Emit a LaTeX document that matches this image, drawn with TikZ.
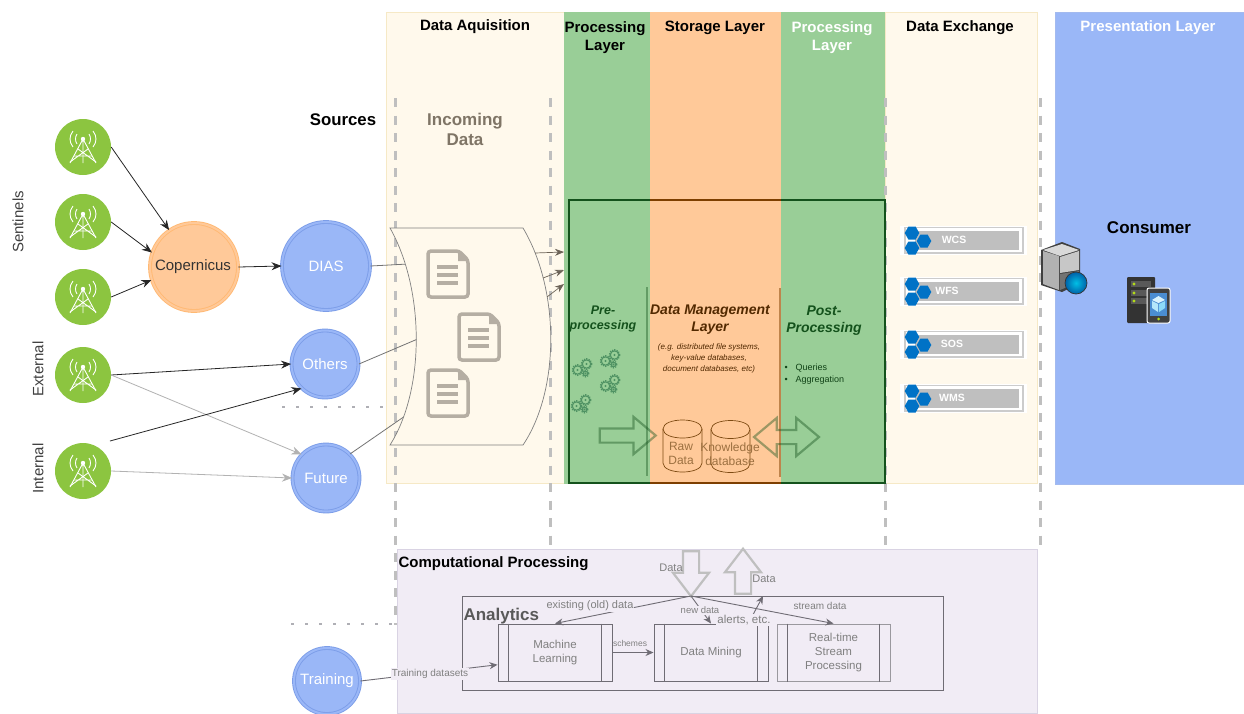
\documentclass[tikz,border=0pt]{standalone}
\usepackage{fontspec}
\setmainfont{Liberation Sans}
\usetikzlibrary{arrows.meta,positioning,shapes.geometric,shapes.arrows}
\definecolor{creamfill}{HTML}{FFF9EC}
\definecolor{creamline}{HTML}{F6E9C6}
\definecolor{greenfill}{HTML}{99CE97}
\definecolor{orangefill}{HTML}{FFC999}
\definecolor{bluefill}{HTML}{9AB7F7}
\definecolor{blueline}{HTML}{7C9DE8}
\definecolor{towergreen}{HTML}{8CC540}
\definecolor{panelfill}{HTML}{F1ECF5}
\definecolor{panelline}{HTML}{D9D3E3}
\definecolor{docgray}{HTML}{B5AEA3}
\definecolor{procline}{HTML}{6F6C74}
\definecolor{proctext}{HTML}{808080}
\definecolor{darkgreen}{HTML}{14521C}
\definecolor{gearcol}{HTML}{4F9263}
\definecolor{cylcol}{HTML}{7D4A12}
\definecolor{cyltext}{HTML}{9C7040}
\definecolor{hexblue}{HTML}{0072C6}
\definecolor{inctext}{HTML}{7F7566}
\newcommand{\fsz}[2]{\fontsize{#1}{#2}\selectfont}
\tikzset{
  arr/.style={-{Stealth[length=10pt,width=8pt]},line width=0.8pt,black!85},
  grayarr/.style={-{Stealth[length=10pt,width=8pt]},line width=0.8pt,black!30},
  thinarr/.style={-{Stealth[length=9pt,width=7pt]},line width=0.7pt,inctext!85!black},
  procarr/.style={-{Stealth[length=8pt,width=7pt]},line width=0.9pt,procline},
  tower/.style={circle,fill=towergreen,minimum size=56pt,inner sep=0pt},
  bluecirc/.style={circle,draw=blueline,double=bluefill,double distance=2pt,line width=0.9pt,fill=bluefill,text=white,inner sep=0pt,font=\fsz{15}{17}},
  orangecirc/.style={circle,draw=orange!55,double=orangefill,double distance=2pt,line width=0.9pt,fill=orangefill,inner sep=0pt,font=\fsz{15}{17},text=black!80},
  titlelab/.style={font=\bfseries\fsz{15}{18},align=center},
  sidelab/.style={rotate=90,font=\fsz{15}{17},text=black!75},
  procbox/.style={draw=procline,line width=1pt,minimum height=57pt,text=proctext,font=\fsz{11.5}{14},align=center,inner sep=0pt},
  proclab/.style={text=proctext,font=\fsz{11}{13},fill=panelfill,inner sep=1pt},
  hollowup/.style={single arrow,draw=black!25,line width=2.2pt,rotate=90,inner xsep=0pt,inner ysep=7pt,minimum width=34pt,minimum height=45pt,single arrow head extend=10pt,single arrow tip angle=75,single arrow head indent=0pt},
  greenarrow/.style={draw=darkgreen,draw opacity=0.42,line width=2.2pt,inner xsep=0pt,inner ysep=6pt},
  dashline/.style={black!25,line width=3pt,dash pattern=on 9pt off 8.5pt},
  dotline/.style={black!22!blue!5!gray!60,line width=2.5pt,dash pattern=on 2.5pt off 11.5pt}
}
\tikzset{
  radiomast/.pic={
    \draw[white,line width=0.9pt] (0,-8) -- (0,16) (0,-8) -- (-13,16) (0,-8) -- (13,16);
    \draw[white,line width=0.9pt] (-13,15) -- (5,2) (13,15) -- (-5,2) (-9,9) -- (9,9);
    \fill[white] (0,-8) circle (2.2pt);
    \draw[white,line width=0.9pt] (6,-13) .. controls (8,-10) and (8,-6) .. (6,-3);
    \draw[white,line width=0.9pt] (-6,-13) .. controls (-8,-10) and (-8,-6) .. (-6,-3);
    \draw[white,line width=0.9pt] (10,-16) .. controls (14,-11) and (14,-5) .. (10,0);
    \draw[white,line width=0.9pt] (-10,-16) .. controls (-14,-11) and (-14,-5) .. (-10,0);
  },
  docicon/.pic={
    \draw[docgray,line width=3.5pt,rounded corners=3pt,fill=creamfill] (-20,-23) -- (11,-23) -- (20,-14) -- (20,23) -- (-20,23) -- cycle;
    \fill[docgray] (10,-24) -- (21,-13) -- (10,-13) -- cycle;
    \foreach \y in {-7,1,9} \draw[docgray,line width=3.2pt] (-11,\y) -- (10,\y);
  },
  gearpair/.pic={
    \foreach \x/\y/\r in {3.5/-3/4.2,-5.5/3/4.2,2.5/6.5/2.2}{
      \draw[gearcol,line width=1.1pt] (\x,\y) circle (\r pt);
      \draw[gearcol,line width=1.3pt,dash pattern=on 1.2pt off 1.2pt] (\x,\y) circle (\r pt+1.1pt);
      \fill[gearcol] (\x,\y) circle (1.1pt);
    }
  },
  hexcluster/.pic={
    \foreach \x/\y in {912/233,924/241,912/248}{
      \fill[hexblue] (\x-7.3,\y) -- (\x-3.6,\y-6.5) -- (\x+3.6,\y-6.5) -- (\x+7.3,\y) -- (\x+3.6,\y+6.5) -- (\x-3.6,\y+6.5) -- cycle;
    }
  },
  cylicon/.pic={
    \draw[cylcol,line width=0.7pt] (-19.5,-17) .. controls (-19.5,-29) and (19.5,-29) .. (19.5,-17) -- (19.5,17) .. controls (19.5,29) and (-19.5,29) .. (-19.5,17) -- cycle;
    \draw[cylcol,line width=0.7pt] (-19.5,-17) .. controls (-19.5,-5) and (19.5,-5) .. (19.5,-17);
  }
}
\begin{document}
\begin{tikzpicture}[x=1pt,y=-1pt]
\useasboundingbox (0,0) rectangle (1244,713);
\fill[white] (0,0) rectangle (1244,713);
\draw[creamline,fill=creamfill] (386,12) rectangle (565,483);
\draw[creamline,fill=creamfill] (885,12) rectangle (1037,483);
\fill[greenfill] (564,12) rectangle (650,484);
\fill[orangefill] (650,12) rectangle (781,484);
\fill[greenfill] (781,12) rectangle (885,484);
\draw[blueline!70,fill=bluefill] (1055,12) rectangle (1244,484);
\draw[panelline,fill=panelfill] (397,549) rectangle (1037,713);
\draw[dashline] (395,98) -- (395,625);
\draw[dashline] (550,98) -- (550,549);
\draw[dashline] (885,98) -- (885,548);
\draw[dashline] (1040,98) -- (1040,548);
\draw[dotline] (282,407) -- (386,407);
\draw[dotline] (291,624) -- (395,624);
\draw[darkgreen,line width=2pt] (569,200) rectangle (885,483);
\draw[black!45!orange!90!black,line width=2pt] (650,200) -- (781,200);
\draw[black!45!orange!90!black,line width=2pt] (650,483) -- (781,483);
\draw[darkgreen,draw opacity=0.4,line width=2.5pt] (647,287) -- (647,476);
\draw[black!50!orange,draw opacity=0.5,line width=2.5pt] (780,288) -- (780,477);
\node[titlelab] (acqtitle) at (475,26.5) {Data Aquisition};
\node[titlelab] (proctitle) at (605,37.5) {Processing\\Layer};
\node[titlelab] (stortitle) at (715,28) {Storage Layer};
\node[titlelab,text=white] (proctitleb) at (832,37.5) {Processing\\Layer};
\node[titlelab] (exchtitle) at (960,28) {Data Exchange};
\node[titlelab,text=white] (prestitle) at (1148,28) {Presentation Layer};
\node[titlelab,font=\bfseries\fsz{16.8}{18}] (srctitle) at (343,120) {Sources};
\node[font=\bfseries\fsz{17}{20},align=center,text=inctext] (incoming) at (465,129) {Incoming\\Data};
\node[titlelab,font=\bfseries\fsz{17}{18}] (consumer) at (1149,228) {Consumer};
\node[titlelab,anchor=west] (comptitle) at (395,564) {Computational Processing};
\node[font=\bfseries\fsz{17}{20},text=black!65,anchor=west] (analytitle) at (460,616) {Analytics};
\node[sidelab] (sentinels) at (18,222) {Sentinels};
\node[sidelab] (external) at (38,369) {External};
\node[sidelab] (internal) at (38,468.5) {Internal};
\foreach \s/\y in {sa/147,sb/222,sc/297,sd/375,se/471}{
  \node[tower] (\s) at (83,\y) {};
  \pic at (83,\y) {radiomast};
}
\node[orangecirc,minimum size=88pt] (cop) at (194,267) {\hspace{-2pt}Copernicus};
\node[bluecirc,minimum size=88pt] (dias) at (326,266) {DIAS};
\node[bluecirc,minimum size=67pt] (others) at (325,364) {Others};
\node[bluecirc,minimum size=67pt] (future) at (326,478) {Future};
\node[bluecirc,minimum size=66pt] (training) at (327,681) {Training};
\coordinate (seout) at (110,441);
\draw[arr] (sa.east) -- (cop.124);
\draw[arr] (sb.east) -- (cop.161);
\draw[arr] (sc.east) -- (cop.197);
\draw[arr] (cop.east) -- (dias.west);
\draw[arr] (sd.east) -- (others.west);
\draw[grayarr] (sd.east) -- (future.136);
\draw[arr] (seout) -- (others.226);
\draw[grayarr] (se.east) -- (future.west);
\coordinate (inone) at (408,264);
\coordinate (intwo) at (420,338);
\coordinate (inthree) at (405,416);
\draw[black!55,line width=0.8pt] (dias.east) -- (inone);
\draw[black!55,line width=0.8pt] (others.east) -- (intwo);
\draw[black!55,line width=0.8pt] (future.45) -- (inthree);
\draw[black!50,fill=creamfill,line width=0.7pt] (390,228) -- (523,228) .. controls (560,290) and (560,390) .. (523,445) -- (390,445) .. controls (425,390) and (425,290) .. (390,228) -- cycle;
\pic at (448,274) {docicon};
\pic at (479,337) {docicon};
\pic at (448,393) {docicon};
\coordinate (outa) at (535,253);
\coordinate (outb) at (543,278);
\coordinate (outc) at (547,297);
\coordinate (procin) at (564,252);
\coordinate (procinb) at (564,270);
\coordinate (procinc) at (564,284);
\draw[thinarr] (outa) -- (procin);
\draw[thinarr] (outb) -- (procinb);
\draw[thinarr] (outc) -- (procinc);
\node[font=\bfseries\itshape\fsz{12.5}{15},align=center,text=darkgreen] (prelab) at (603,319) {Pre-\\processing};
\node[font=\bfseries\itshape\fsz{14}{17},align=center,text=black!60!orange!80!black] (dmlab) at (710,320) {Data Management\\Layer};
\node[font=\itshape\fsz{8}{11},align=center,text=black!55!orange!70!black] (dmsub) at (709,358) {(e.g. distributed file systems,\\key-value databases,\\document databases, etc)};
\node[font=\bfseries\itshape\fsz{14}{17},align=center,text=darkgreen] (postlab) at (824,321) {Post-\\Processing};
\node[font=\fsz{9}{11.5},align=left,text=darkgreen!80!black,anchor=west] (postlist) at (781,374) {\textbullet\hspace{8pt}Queries\\\textbullet\hspace{8pt}Aggregation};
\foreach \x/\y in {583/367,611/358,611/383,582/403}
  \pic at (\x,\y) {gearpair};
\pic at (682.5,446) {cylicon};
\pic at (730.5,446.5) {cylicon};
\node[font=\fsz{12}{14},align=center,text=cyltext] (rawlab) at (681,453) {Raw\\Data};
\node[font=\fsz{12}{14},align=center,text=cyltext] (knowlab) at (730,454) {Knowledge\\database};
\node[single arrow,greenarrow,minimum height=56pt,minimum width=35pt,single arrow head extend=11.5pt,single arrow tip angle=80,single arrow head indent=0pt] (prearrow) at (623.5,435.5) {};
\node[double arrow,greenarrow,minimum height=65pt,minimum width=36pt,double arrow head extend=12pt,double arrow tip angle=80,double arrow head indent=0pt] (dmarrow) at (786.5,437) {};
\foreach \n/\y/\x/\lab in {wcs/240/954/WCS,wfs/291/947/WFS,sos/344/952/SOS,wms/398/952/WMS}{
  \fill[white] (900,\y-14.5) rectangle (1027,\y+14.5);
  \draw[black!20,line width=1.3pt] (905,\y-12.5) rectangle (1023,\y+13);
  \fill[black!25] (915,\y-9) rectangle (1019,\y+9.5);
  \begin{scope}[yshift=-\y pt+240pt]
    \pic at (0,0) {hexcluster};
  \end{scope}
  \node[text=white,font=\bfseries\fsz{10.5}{12}] (\n) at (\x,\y) {\lab};
}
\fill[black!75] (1041,250) -- (1062,242) -- (1080,249) -- (1080,283) -- (1062,292) -- (1041,285) -- cycle;
\fill[black!15!white] (1043,250) -- (1062,244) -- (1079,250) -- (1060,256) -- cycle;
\fill[black!30!white] (1043,251) -- (1059,256) -- (1059,290) -- (1043,284) -- cycle;
\fill[black!22!white] (1060,257) -- (1079,251) -- (1079,270) -- (1060,273) -- cycle;
\fill[black!55!white] (1060,274) -- (1079,271) -- (1079,282) -- (1060,290) -- cycle;
\shade[inner color=cyan!55!hexblue,outer color=hexblue!85!black] (1076,283) circle (11pt);
\draw[black!80,line width=0.7pt] (1076,283) circle (11pt);
\fill[black!80,rounded corners=1pt] (1127,277) rectangle (1155,323);
\foreach \y in {284,293,301}{
  \fill[black!65] (1131,\y-3) rectangle (1151,\y+3);
  \fill[yellow!70!green] (1134,\y) circle (1.7pt);
}
\draw[white,fill=black!75,line width=1pt,rounded corners=2pt] (1147,288) rectangle (1170,323);
\fill[cyan!55!blue!75] (1150,293) rectangle (1167,316);
\fill[white!85!cyan] (1158.5,296) -- (1165,300) -- (1158.5,303) -- (1152,300) -- cycle;
\fill[white!70!cyan] (1152,301) -- (1158,304) -- (1158,312) -- (1152,308) -- cycle;
\fill[white!55!cyan] (1165,301) -- (1159,304) -- (1159,312) -- (1165,308) -- cycle;
\fill[yellow!70!green] (1158.5,319) circle (1.5pt);
\draw[procline,line width=1pt] (462,596) rectangle (943,690);
\node[procbox,minimum width=114pt] (ml) at (555,652.5) {Machine\\Learning};
\node[procbox,minimum width=114pt] (dm) at (711,652.5) {Data Mining};
\node[procbox,minimum width=113pt,draw=procline!70] (rt) at (833.5,652.5) {Real-time\\Stream\\Processing};
\foreach \p in {ml,dm,rt}{
  \draw[procline,line width=1pt] ([xshift=11pt]\p.north west) -- ([xshift=11pt]\p.south west);
  \draw[procline,line width=1pt] ([xshift=-11pt]\p.north east) -- ([xshift=-11pt]\p.south east);
}
\node[hollowup,rotate=180] (dataout) at (691,568.5) {};
\node[hollowup] (datain) at (743,576.5) {};
\coordinate (hub) at (691,596);
\coordinate (alertend) at (763,596);
\draw[procarr] (hub) -- (ml.north);
\draw[procarr] (hub) -- (dm.north);
\draw[procarr] (hub) -- (rt.north);
\draw[procarr] (748,624) -- (alertend);
\draw[procarr] (ml.east) -- (dm.west);
\draw[procarr] (training.east) -- (ml.192);
\node[proclab] (existlab) at (590,606) {existing (old) data};
\node[proclab,font=\fsz{9.5}{11}] (newlab) at (700,610) {new data};
\node[proclab,font=\fsz{10}{12}] (streamlab) at (820,606) {stream data};
\node[proclab,font=\fsz{11.5}{13}] (alertlab) at (744,620) {alerts, etc.};
\node[proclab,font=\fsz{8.5}{10},fill=none] (schemelab) at (630,643) {schemes};
\node[proclab,font=\fsz{10}{12}] (trainlab) at (430,674) {Training datasets};
\node[proclab,fill=none] (datalab) at (671,568) {Data};
\node[proclab,fill=none] (datalabb) at (764,579) {Data};
\end{tikzpicture}
\end{document}
